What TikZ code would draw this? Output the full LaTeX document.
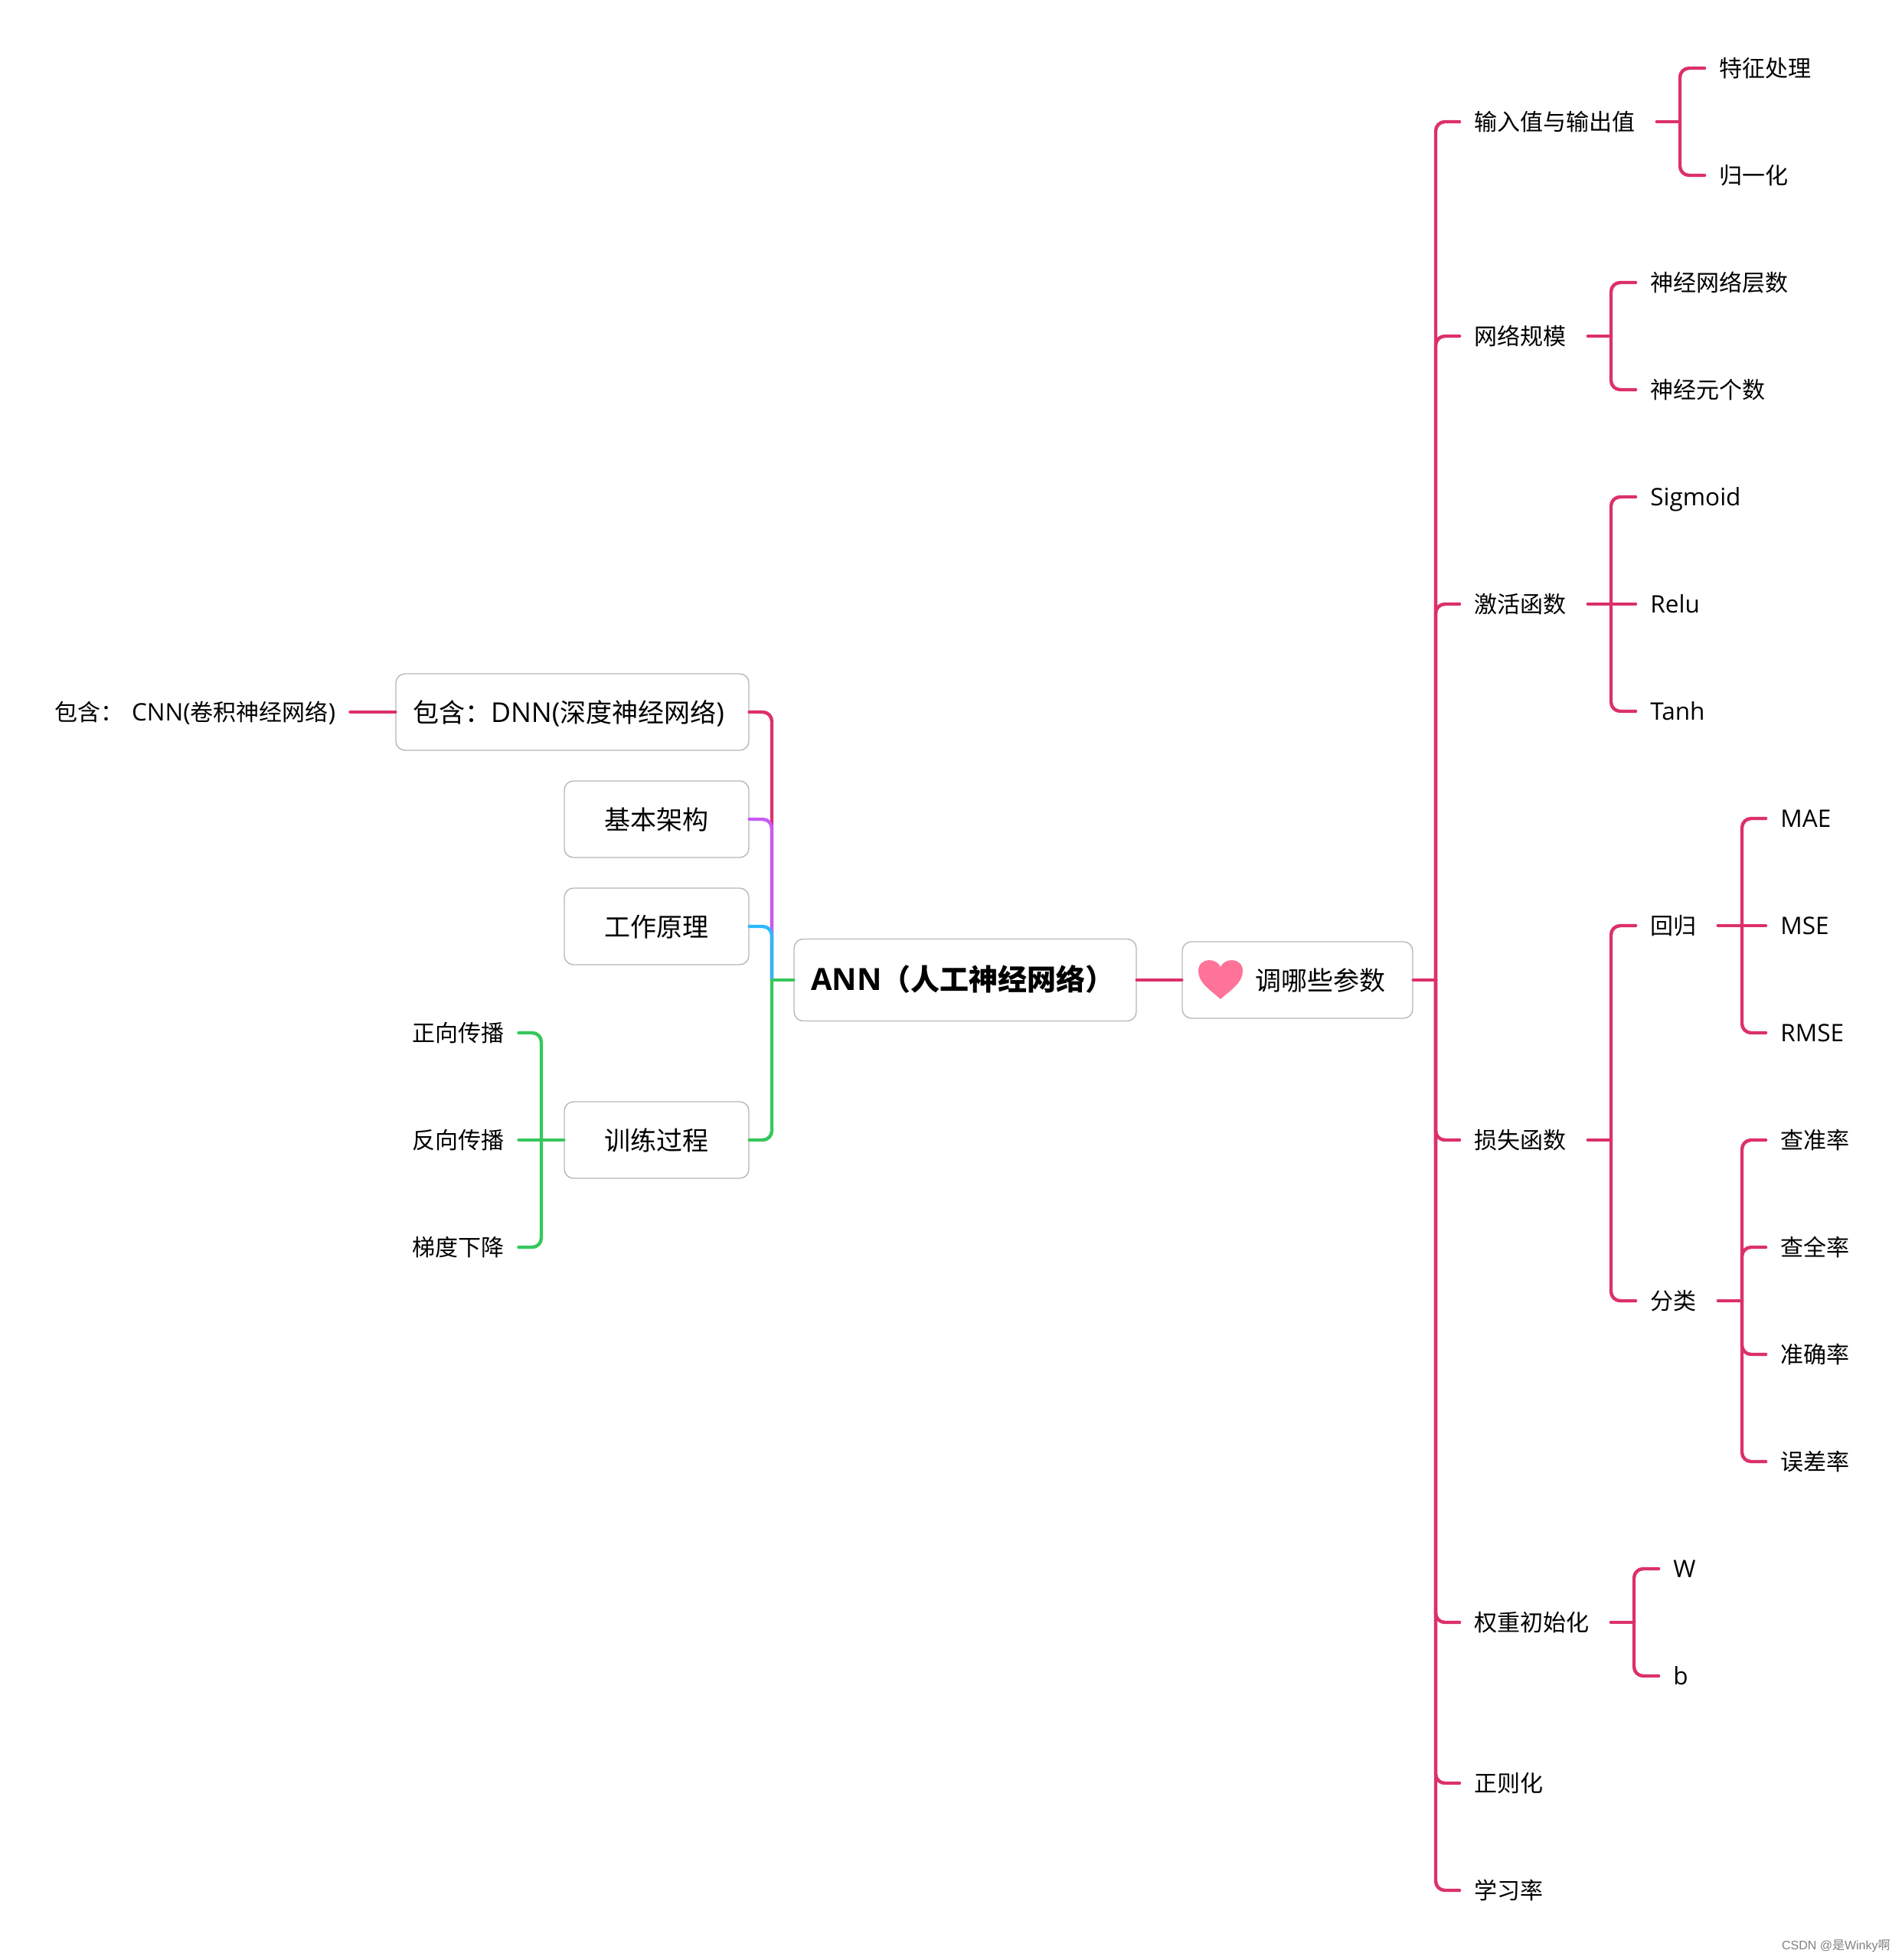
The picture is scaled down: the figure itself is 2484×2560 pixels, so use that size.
\documentclass[tikz,border=0pt]{standalone}
\usepackage{fontspec}
\setmainfont{Noto Sans CJK SC}
\newfontfamily\lat[Scale=1.05]{Open Sans}
\newfontfamily\wmark{Liberation Sans}
\definecolor{rosered}{HTML}{DC306C}
\definecolor{violet}{HTML}{C55CF5}
\definecolor{skyblue}{HTML}{2BB9FF}
\definecolor{leafgreen}{HTML}{36C75C}
\definecolor{boxgray}{HTML}{B8B8B8}
\definecolor{heartpink}{HTML}{FF7399}
\tikzset{
	link/.style={
		line width=2.2pt,
		line cap=round,
		rounded corners=6pt,
		draw=rosered
	},
	stem/.style={
		link,
		shorten <=4.5pt
	},
	box/.style={
		draw=boxgray,
		line width=.7pt,
		rounded corners=6pt,
		fill=white,
		inner sep=0,
		minimum height=50pt,
		text height=1.3em,
		text depth=0pt,
		font=\fontsize{17pt}{20pt}\selectfont
	},
	leaf/.style={
		inner xsep=9.5pt,
		inner ysep=0,
		text height=1.1em,
		text depth=0pt,
		font=\fontsize{15pt}{18pt}\selectfont
	}
}

\begin{document}
\begin{tikzpicture}[x=.5pt, y=-.5pt]
	\useasboundingbox (0, 0) rectangle (2484, 2560);

	%% Centre
	\node[box, minimum width=223.5pt, minimum height=53.5pt, font=\fontsize{19pt}{22pt}\selectfont\bfseries] (ann) at (1260.5, 1280) {\hspace{-3pt}{\lat ANN}（人工神经网络）};
	\node[box, minimum width=150.5pt] (params) at (1694.5, 1280) {\hspace{30pt}调哪些参数};
	\fill[heartpink] (1594, 1305) .. controls (1578, 1291) and (1565, 1283) .. (1565, 1268)
		.. controls (1565, 1259) and (1572, 1254) .. (1579, 1254)
		.. controls (1586, 1254) and (1592, 1258) .. (1594, 1263)
		.. controls (1596, 1258) and (1602, 1254) .. (1609, 1254)
		.. controls (1616, 1254) and (1623, 1259) .. (1623, 1268)
		.. controls (1623, 1283) and (1610, 1291) .. (1594, 1305);
	\coordinate (trunkleft) at (1008, 1280);
	\coordinate (trunkright) at (1875, 1280);
	\draw[link] (ann.east) -- (params.west);
	\draw[link] (params.east) -- (trunkright);

	%% Left boxes
	\node[box, minimum width=230.5pt] (dnn) at (747.5, 930) {\hspace{-5pt}包含：{\lat DNN(}深度神经网络{\lat )}};
	\node[box, minimum width=120.5pt] (basic) at (857.5, 1070) {基本架构};
	\node[box, minimum width=120.5pt] (principle) at (857.5, 1210) {工作原理};
	\node[box, minimum width=120.5pt] (training) at (857.5, 1489) {训练过程};
	\draw[link] (trunkleft) |- (dnn.east);
	\draw[link, draw=violet] (trunkleft) |- (basic.east);
	\draw[link, draw=skyblue] (trunkleft) |- (principle.east);
	\draw[link, draw=leafgreen] (trunkleft) |- (training.east);
	\draw[link, draw=leafgreen] (trunkleft) -- (ann.west);

	% Left leaves
	\node[leaf, anchor=east] (cnn) at (457.5, 930) {包含：\hspace{2pt} {\lat CNN(}卷积神经网络{\lat )}};
	\draw[link] (cnn.east) -- (dnn.west);
	\coordinate (trainingfork) at (707, 1489);
	\draw[link, draw=leafgreen] (training.west) -- (trainingfork);
	\foreach \name/\row/\txt/\via in {forward/1349/正向传播/|-, backward/1489/反向传播/--, descent/1629/梯度下降/|-} {
		\node[leaf, anchor=east] (\name) at (677.5, \row) {\txt};
		\draw[link, draw=leafgreen] (trainingfork) \via (\name.east);
	}

	%% Right branches
	\foreach \name/\row/\txt in {input/159/输入值与输出值, scale/439/网络规模, activation/789/激活函数, loss/1489/损失函数, weight/2119/权重初始化, regular/2329/正则化, rate/2469/学习率} {
		\node[leaf, anchor=west] (\name) at (1906, \row) {\txt};
		\draw[link] (trunkright) |- (\name.west);
	}

	% Input
	\coordinate (inputfork) at (2194, 159);
	\draw[stem] (input.east) -- (inputfork);
	\foreach \name/\row/\txt in {feature/89/特征处理, norm/229/归一化} {
		\node[leaf, anchor=west] (\name) at (2226, \row) {\txt};
		\draw[link] (inputfork) |- (\name.west);
	}

	% Scale
	\coordinate (scalefork) at (2104, 439);
	\draw[stem] (scale.east) -- (scalefork);
	\foreach \name/\row/\txt in {layers/369/神经网络层数, neurons/509/神经元个数} {
		\node[leaf, anchor=west] (\name) at (2136, \row) {\txt};
		\draw[link] (scalefork) |- (\name.west);
	}

	% Activation
	\coordinate (activationfork) at (2104, 789);
	\draw[stem] (activation.east) -- (activationfork);
	\foreach \name/\row/\txt/\via in {sigmoid/649/Sigmoid/|-, relu/789/Relu/--, tanh/929/Tanh/|-} {
		\node[leaf, anchor=west] (\name) at (2136, \row) {\lat\txt};
		\draw[link] (activationfork) \via (\name.west);
	}

	% Loss
	\coordinate (lossfork) at (2104, 1489);
	\draw[stem] (loss.east) -- (lossfork);
	\foreach \name/\row/\txt in {regress/1209/回归, classify/1699/分类} {
		\node[leaf, anchor=west] (\name) at (2136, \row) {\txt};
		\draw[link] (lossfork) |- (\name.west);
	}
	\coordinate (regressfork) at (2275, 1209);
	\draw[stem] (regress.east) -- (regressfork);
	\foreach \name/\row/\txt/\via in {mae/1069/MAE/|-, mse/1209/MSE/--, rmse/1349/RMSE/|-} {
		\node[leaf, anchor=west] (\name) at (2306, \row) {\lat\txt};
		\draw[link] (regressfork) \via (\name.west);
	}
	\coordinate (classifyfork) at (2275, 1699);
	\draw[stem] (classify.east) -- (classifyfork);
	\foreach \name/\row/\txt in {precision/1489/查准率, recall/1629/查全率, accuracy/1769/准确率, errorrate/1909/误差率} {
		\node[leaf, anchor=west] (\name) at (2306, \row) {\txt};
		\draw[link] (classifyfork) |- (\name.west);
	}

	% Weight
	\coordinate (weightfork) at (2134, 2119);
	\draw[stem] (weight.east) -- (weightfork);
	\foreach \name/\row/\txt in {w/2049/W, b/2189/b} {
		\node[leaf, anchor=west] (\name) at (2166, \row) {\lat\txt};
		\draw[link] (weightfork) |- (\name.west);
	}

	% Watermark
	\node[anchor=east, inner sep=0, text=gray, font=\fontsize{8pt}{10pt}\selectfont] (credit) at (2469, 2542) {{\wmark CSDN @}是{\wmark Winky}啊};
\end{tikzpicture}
\end{document}
